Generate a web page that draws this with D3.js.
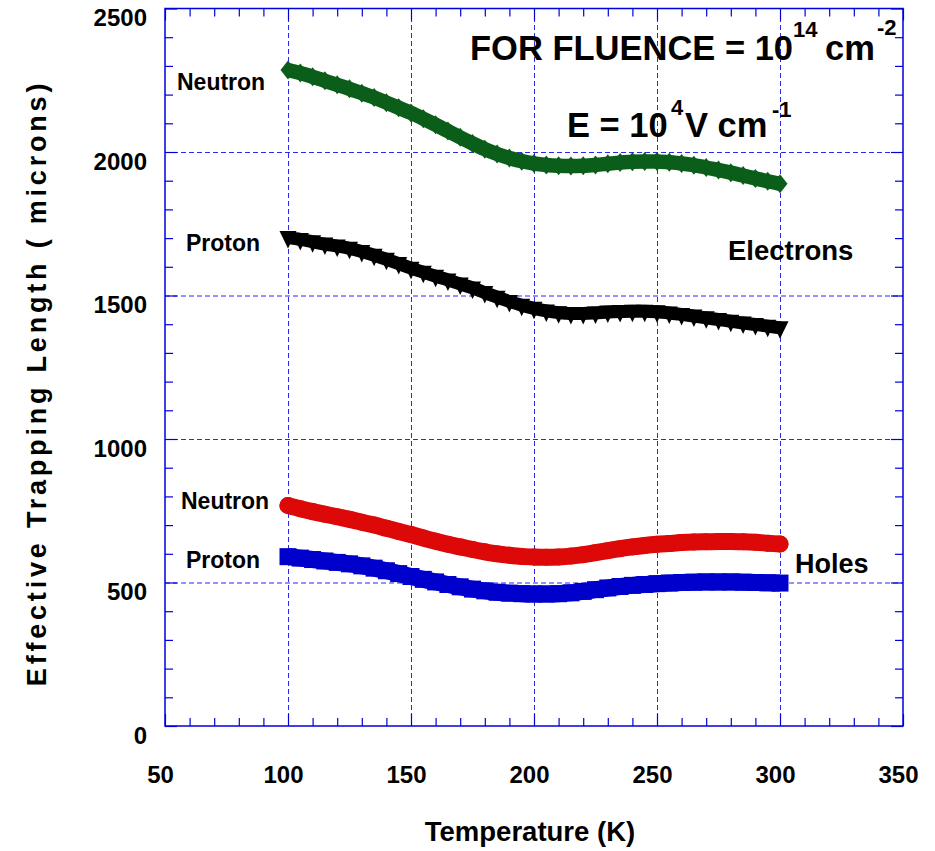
<!DOCTYPE html>
<html>
<head>
<meta charset="utf-8">
<script src="https://cdn.jsdelivr.net/npm/d3@7"></script>
<style>
  html, body { margin: 0; padding: 0; background: #fff; }
  svg text { font-family: "Liberation Sans", Arial, sans-serif; font-weight: bold; fill: #000; }
</style>
</head>
<body>
<svg id="chart" width="935" height="851"></svg>
<script>
// temperature (K) and effective trapping length (microns)
const temperature = [100, 105, 110, 115, 120, 125, 130, 135, 140, 145, 150, 155, 160, 165, 170, 175, 180, 185, 190, 195,
  200, 205, 210, 215, 220, 225, 230, 235, 240, 245, 250, 255, 260, 265, 270, 275, 280, 285, 290, 295, 300];

const neutronElectrons = [2286, 2275, 2262, 2248, 2234, 2220, 2205, 2190, 2172, 2154, 2136, 2116, 2095, 2073, 2051, 2030, 2010, 1993, 1979, 1968,
  1960, 1955, 1952, 1951, 1952, 1955, 1959, 1963, 1966, 1967, 1967, 1964, 1960, 1954, 1946, 1937, 1928, 1918, 1908, 1898, 1889];

const protonElectrons = [1697, 1690, 1682, 1674, 1667, 1659, 1648, 1635, 1621, 1606, 1590, 1576, 1562, 1549, 1535, 1521, 1505, 1489, 1474, 1461,
  1450, 1441, 1435, 1432, 1432, 1434, 1437, 1439, 1440, 1440, 1438, 1434, 1429, 1423, 1417, 1411, 1405, 1399, 1394, 1388, 1382];

const neutronHoles = [768, 757, 747, 738, 729, 720, 710, 700, 689, 678, 667, 655, 644, 633, 624, 615, 607, 600, 595, 591,
  589, 588, 589, 592, 597, 604, 611, 618, 624, 629, 633, 636, 639, 641, 642, 643, 643, 642, 640, 637, 634];

const protonHoles = [590, 585, 580, 575, 570, 565, 558, 550, 541, 531, 521, 511, 502, 493, 485, 477, 471, 466, 463, 461,
  460, 460, 461, 464, 469, 475, 481, 486, 490, 493, 496, 498, 500, 501, 502, 502, 502, 501, 500, 499, 498];

const xMajor = [50, 100, 150, 200, 250, 300, 350];
const xMinor = [60, 70, 80, 90, 110, 120, 130, 140, 160, 170, 180, 190, 210, 220, 230, 240, 260, 270, 280, 290, 310, 320, 330, 340];
const yMajor = [0, 500, 1000, 1500, 2000, 2500];
const yMinor = [100, 200, 300, 400, 600, 700, 800, 900, 1100, 1200, 1300, 1400, 1600, 1700, 1800, 1900, 2100, 2200, 2300, 2400];

const axisBlue = '#0000dd';
const gridBlue = '#2a2aee';

const svg = d3.select('#chart');

const x = d3.scaleLinear().domain([50, 350]).range([165, 903]);
const y = d3.scaleLinear().domain([0, 2500]).range([726, 8.5]);
const x0 = x.range()[0], x1 = x.range()[1];
const y0 = y.range()[0], y1 = y.range()[1];

// dashed grid at inner major ticks
const grid = svg.append('g').attr('class', 'grid');
grid.append('g')
  .attr('transform', 'translate(0,' + y0 + ')')
  .call(d3.axisBottom(x).tickValues(xMajor.slice(1, -1)).tickSize(-(y0 - y1)).tickFormat(''));
grid.append('g')
  .attr('transform', 'translate(' + x0 + ',0)')
  .call(d3.axisLeft(y).tickValues(yMajor.slice(1, -1)).tickSize(-(x1 - x0)).tickFormat(''));
grid.selectAll('.domain').remove();
grid.selectAll('line')
  .attr('stroke', gridBlue)
  .attr('stroke-width', 1)
  .attr('stroke-dasharray', '5,3');

// inward ticks on all four sides
function ticks(axis, tx, ty) {
  const g = svg.append('g').attr('transform', 'translate(' + tx + ',' + ty + ')').call(axis);
  g.select('.domain').remove();
  g.selectAll('line').attr('stroke', axisBlue).attr('stroke-width', 1.2);
  return g;
}
ticks(d3.axisBottom(x).tickValues(xMinor).tickSize(-8).tickFormat(''), 0, y0);
ticks(d3.axisBottom(x).tickValues(xMajor).tickSize(-12).tickFormat(''), 0, y0);
ticks(d3.axisTop(x).tickValues(xMinor).tickSize(-8).tickFormat(''), 0, y1);
ticks(d3.axisTop(x).tickValues(xMajor).tickSize(-12).tickFormat(''), 0, y1);
ticks(d3.axisLeft(y).tickValues(yMinor).tickSize(-8).tickFormat(''), x0, 0);
ticks(d3.axisLeft(y).tickValues(yMajor).tickSize(-12).tickFormat(''), x0, 0);
ticks(d3.axisRight(y).tickValues(yMinor).tickSize(-8).tickFormat(''), x1, 0);
ticks(d3.axisRight(y).tickValues(yMajor).tickSize(-12).tickFormat(''), x1, 0);

svg.append('rect')
  .attr('x', x0).attr('y', y1)
  .attr('width', x1 - x0).attr('height', y0 - y1)
  .attr('fill', 'none')
  .attr('stroke', axisBlue)
  .attr('stroke-width', 1.5);

// tick labels
const xLab = svg.append('g')
  .attr('transform', 'translate(0,' + y0 + ')')
  .call(d3.axisBottom(x).tickValues(xMajor).tickSize(0).tickPadding(40).tickFormat(d3.format('d')));
xLab.select('.domain').remove();
xLab.selectAll('text').attr('font-size', 24).attr('dx', -5);

const yLab = svg.append('g')
  .attr('transform', 'translate(' + x0 + ',0)')
  .call(d3.axisLeft(y).tickValues(yMajor).tickSize(0).tickPadding(18).tickFormat(d3.format('d')));
yLab.select('.domain').remove();
yLab.selectAll('text').attr('font-size', 24).attr('dy', '0.71em');
svg.selectAll('.tick text').attr('fill', '#000').style('font-family', '"Liberation Sans", Arial, sans-serif');

// series
const line = d3.line()
  .x((d, i) => x(temperature[i]))
  .y(d => y(d))
  .curve(d3.curveMonotoneX);

const diamond = {
  draw(ctx) {
    ctx.moveTo(0, -9.5); ctx.lineTo(7.5, 0); ctx.lineTo(0, 9.5); ctx.lineTo(-7.5, 0); ctx.closePath();
  }
};
const triangleDown = {
  draw(ctx) {
    ctx.moveTo(-8.5, -8); ctx.lineTo(8.5, -8); ctx.lineTo(0, 9.5); ctx.closePath();
  }
};
const square = {
  draw(ctx) {
    ctx.rect(-8.5, -8.5, 17, 17);
  }
};
const circle = {
  draw(ctx) {
    ctx.moveTo(8.5, 0); ctx.arc(0, 0, 8.5, 0, 2 * Math.PI);
  }
};

const series = [
  { values: neutronElectrons, color: '#0b5e1a', symbol: diamond, band: 14.5, cap: 'butt', shift: 0 },
  { values: protonElectrons, color: '#000000', symbol: triangleDown, band: 13, cap: 'butt', shift: -1.5 },
  { values: neutronHoles, color: '#dd0808', symbol: circle, band: 17, cap: 'round', shift: 0 },
  { values: protonHoles, color: '#0000cc', symbol: square, band: 17, cap: 'butt', shift: 0 }
];

const plot = svg.append('g').attr('class', 'series');
series.forEach(s => {
  const g = plot.append('g');
  g.append('path')
    .datum(s.values)
    .attr('d', line)
    .attr('fill', 'none')
    .attr('stroke', s.color)
    .attr('stroke-width', s.band)
    .attr('stroke-linecap', s.cap)
    .attr('transform', 'translate(0,' + s.shift + ')');
  g.selectAll('path.pt')
    .data(s.values)
    .join('path')
    .attr('class', 'pt')
    .attr('d', d3.symbol().type(s.symbol))
    .attr('transform', (d, i) => 'translate(' + x(temperature[i]) + ',' + y(d) + ')')
    .attr('fill', s.color);
});

// annotations
function label(txt, tx, ty, size) {
  return svg.append('text').attr('x', tx).attr('y', ty).attr('font-size', size).text(txt);
}
label('Neutron', 177, 90, 23);
label('Proton', 186, 251, 23);
label('Electrons', 728, 260, 27.5);
label('Neutron', 181, 509, 23);
label('Proton', 186, 568, 23);
label('Holes', 795, 573, 27);

const t1 = svg.append('text').attr('x', 470).attr('y', 60).attr('font-size', 34.5);
t1.append('tspan').text('FOR FLUENCE = 10');
t1.append('tspan').attr('x', 793).attr('y', 37).attr('font-size', 22).text('14');
t1.append('tspan').attr('x', 825).attr('y', 60).text('cm');
t1.append('tspan').attr('x', 877).attr('y', 35).attr('font-size', 22).text('-2');

const t2 = svg.append('text').attr('x', 567).attr('y', 137).attr('font-size', 34.5);
t2.append('tspan').text('E = 10');
t2.append('tspan').attr('x', 671).attr('y', 115).attr('font-size', 22).text('4');
t2.append('tspan').attr('x', 685).attr('y', 137).text('V cm');
t2.append('tspan').attr('x', 772).attr('y', 117).attr('font-size', 22).text('-1');

// axis titles
svg.append('text')
  .attr('x', 530).attr('y', 841)
  .attr('text-anchor', 'middle')
  .attr('font-size', 27.5)
  .text('Temperature (K)');

svg.append('text')
  .attr('transform', 'translate(46,383) rotate(-90)')
  .attr('text-anchor', 'middle')
  .attr('font-size', 27)
  .attr('letter-spacing', 3.8)
  .text('Effective Trapping Length ( microns)');
</script>
</body>
</html>
